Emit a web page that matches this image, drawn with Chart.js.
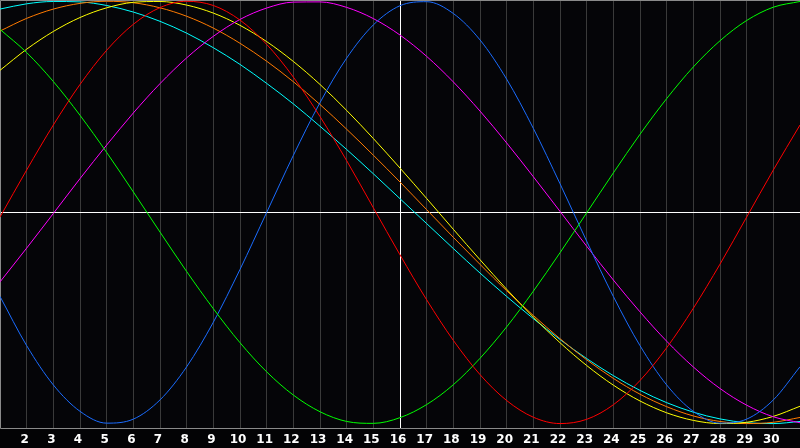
<!DOCTYPE html>
<html>
<head>
<meta charset="utf-8">
<script src="https://cdn.jsdelivr.net/npm/chart.js@4/dist/chart.umd.min.js"></script>
<style>
    html, body { margin: 0; padding: 0; background: #030305; }
    #wrap { width: 800px; height: 448px; }
</style>
</head>
<body>
<div id="wrap"><canvas id="bioChart"></canvas></div>
<script>
// days of the month shown on the x axis
const days = [1, 2, 3, 4, 5, 6, 7, 8, 9, 10, 11, 12, 13, 14, 15, 16,
    17, 18, 19, 20, 21, 22, 23, 24, 25, 26, 27, 28, 29, 30, 31];
const todayDay = 16;

// values, one per day (-1 .. 1)
const redValues = [-0.022, 0.201, 0.414, 0.606, 0.768, 0.891, 0.970, 1.000, 0.980, 0.911, 0.796, 0.641, 0.454, 0.245, 0.022, -0.201,
    -0.414, -0.606, -0.768, -0.891, -0.970, -1.000, -0.980, -0.911, -0.796, -0.641, -0.454, -0.245, -0.022, 0.201, 0.414];
const greenValues = [0.867, 0.757, 0.620, 0.460, 0.284, 0.097, -0.093, -0.280, -0.456, -0.617, -0.755, -0.865, -0.944, -0.990, -0.999, -0.972,
    -0.910, -0.816, -0.691, -0.542, -0.373, -0.191, -0.002, 0.187, 0.370, 0.539, 0.689, 0.813, 0.909, 0.972, 0.999];
const blueValues = [-0.398, -0.631, -0.817, -0.942, -0.998, -0.979, -0.888, -0.731, -0.520, -0.270, 0.000, 0.270, 0.520, 0.731, 0.888, 0.979,
    0.998, 0.942, 0.817, 0.631, 0.398, 0.136, -0.136, -0.398, -0.631, -0.817, -0.942, -0.998, -0.979, -0.888, -0.731];
const magentaValues = [-0.329, -0.169, -0.005, 0.160, 0.319, 0.471, 0.610, 0.732, 0.834, 0.914, 0.968, 0.996, 0.997, 0.971, 0.918, 0.840,
    0.739, 0.618, 0.480, 0.329, 0.169, 0.005, -0.160, -0.320, -0.471, -0.610, -0.732, -0.834, -0.913, -0.968, -0.996];
const yellowValues = [0.673, 0.773, 0.857, 0.923, 0.969, 0.995, 0.999, 0.982, 0.944, 0.886, 0.809, 0.715, 0.606, 0.483, 0.350, 0.210,
    0.066, -0.080, -0.224, -0.364, -0.496, -0.617, -0.725, -0.818, -0.893, -0.949, -0.985, -1.000, -0.994, -0.966, -0.918];
const orangeValues = [0.859, 0.919, 0.963, 0.990, 1.000, 0.993, 0.969, 0.929, 0.873, 0.801, 0.716, 0.619, 0.511, 0.394, 0.271, 0.144,
    0.013, -0.118, -0.246, -0.371, -0.488, -0.598, -0.698, -0.786, -0.861, -0.920, -0.964, -0.990, -1.000, -0.994, -0.971];
const cyanValues = [0.963, 0.988, 0.999, 0.997, 0.980, 0.949, 0.905, 0.849, 0.780, 0.701, 0.611, 0.514, 0.408, 0.298, 0.183, 0.065,
    -0.053, -0.171, -0.287, -0.398, -0.503, -0.602, -0.692, -0.773, -0.843, -0.901, -0.946, -0.978, -0.996, -1.000, -0.990];

function curve(values, color) {
    return {
        data: values,
        borderColor: color,
        borderWidth: 1,
        pointRadius: 0,
        fill: false,
        cubicInterpolationMode: 'monotone'
    };
}

// frame, background and the zero line, drawn on the library's own scales
const framePlugin = {
    id: 'frame',
    beforeDraw(chart) {
        const a = chart.chartArea, c = chart.ctx;
        c.save();
        c.fillStyle = '#050508';
        c.fillRect(a.left, a.top, a.right - a.left, a.bottom - a.top);
        c.restore();
    },
    beforeDatasetsDraw(chart) {
        const a = chart.chartArea, c = chart.ctx;
        const y0 = Math.round(chart.scales.y.getPixelForValue(0)) + 0.5;
        c.save();
        c.strokeStyle = '#ffffff';
        c.lineWidth = 1;
        c.beginPath();
        c.moveTo(a.left, y0);
        c.lineTo(a.right, y0);
        c.stroke();
        c.strokeStyle = '#8a8a8a';
        c.beginPath();
        c.moveTo(a.right, a.top + 0.5);
        c.lineTo(a.left + 0.5, a.top + 0.5);
        c.lineTo(a.left + 0.5, a.bottom + 0.5);
        c.lineTo(a.right, a.bottom + 0.5);
        c.stroke();
        c.restore();
    }
};

new Chart(document.getElementById('bioChart'), {
    type: 'line',
    data: {
        labels: days,
        datasets: [
            curve(redValues, '#ff0000'),
            curve(greenValues, '#00ff00'),
            curve(blueValues, '#1a6cff'),
            curve(magentaValues, '#ff00ff'),
            curve(yellowValues, '#ffff00'),
            curve(orangeValues, '#ff7a00'),
            curve(cyanValues, '#00ffff')
        ]
    },
    options: {
        responsive: true,
        maintainAspectRatio: false,
        animation: false,
        layout: { padding: 0, autoPadding: false },
        plugins: {
            legend: { display: false },
            tooltip: { enabled: false }
        },
        scales: {
            x: {
                offset: false,
                border: { display: false },
                grid: {
                    drawTicks: false,
                    color: function (ctx) {
                        return days[ctx.index] === todayDay ? '#ffffff' : '#3a3a3a';
                    }
                },
                ticks: {
                    color: '#ffffff',
                    padding: 5,
                    autoSkip: false,
                    maxRotation: 0,
                    labelOffset: -2,
                    font: { family: "'DejaVu Sans'", size: 12, weight: 'bold' },
                    callback: function (value, index) {
                        const d = days[index];
                        return (d === days[0] || d === days[days.length - 1]) ? '' : String(d);
                    }
                },
                afterFit: function (scale) {
                    scale.height = 20;
                    scale.paddingLeft = 0;
                    scale.paddingRight = 0;
                }
            },
            y: {
                display: false,
                min: -1.021,
                max: 1.006
            }
        }
    },
    plugins: [framePlugin]
});
</script>
</body>
</html>
